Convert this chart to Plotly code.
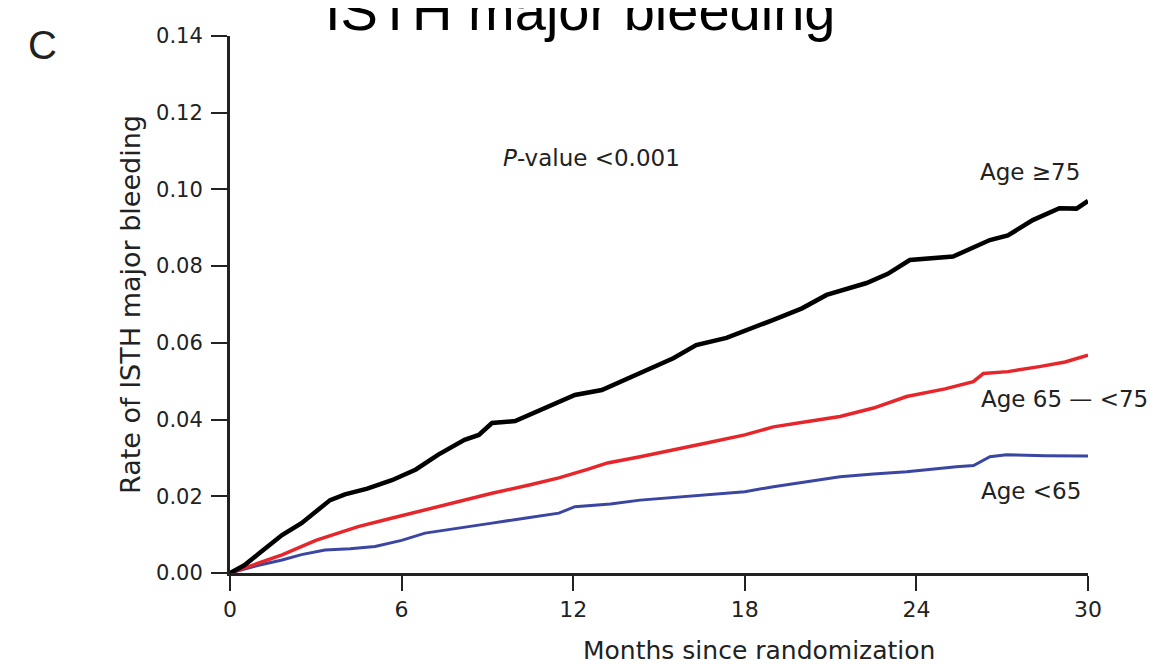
import plotly.graph_objects as go

# ---- data ----
months_75 = [0, 0.5, 1, 1.82, 2.5, 3.0, 3.5, 4.02, 4.8, 5.66, 6.5, 7.27, 8.2, 8.7, 9.16, 9.97,
             11, 12.06, 13.0, 14.0, 14.74, 15.5, 16.3, 17.36, 19.0, 20.0, 20.86, 22.26, 23.0,
             23.77, 25.28, 26.57, 27.2, 28.07, 29.0, 29.6, 30.0]
rate_75 = [0, 0.002, 0.005, 0.0099, 0.013, 0.016, 0.019, 0.0205, 0.022, 0.0242, 0.027, 0.0308,
           0.0347, 0.036, 0.0391, 0.0396, 0.043, 0.0464, 0.0477, 0.051, 0.0535, 0.056, 0.0594,
           0.0613, 0.066, 0.069, 0.0725, 0.0756, 0.078, 0.0816, 0.0825, 0.0868, 0.088, 0.092,
           0.0951, 0.095, 0.097]

months_65_75 = [0, 1, 1.82, 3, 4.48, 5.5, 6.82, 8, 9.16, 10.5, 11.5, 12.5, 13.2, 14.34, 15.5,
                16.66, 18, 19.0, 20.2, 21.33, 22.5, 23.66, 25, 25.99, 26.34, 27.2, 28.3, 29.2, 30.0]
rate_65_75 = [0, 0.0025, 0.0047, 0.0085, 0.0121, 0.014, 0.0164, 0.0185, 0.0208, 0.023, 0.0248,
              0.027, 0.0287, 0.0303, 0.032, 0.0339, 0.036, 0.0381, 0.0395, 0.0408, 0.043, 0.046,
              0.048, 0.0499, 0.052, 0.0525, 0.0538, 0.055, 0.0568]

months_65 = [0, 1, 1.82, 2.5, 3.32, 4.2, 5.07, 6, 6.82, 8, 9.16, 10.3, 11.5, 12.06, 13.3, 14.34,
             15.5, 16.66, 18, 19.0, 20.2, 21.33, 22.5, 23.66, 25.4, 26.0, 26.57, 27.15, 28.5, 30.0]
rate_65 = [0, 0.002, 0.0034, 0.0048, 0.006, 0.0063, 0.0069, 0.0085, 0.0104, 0.0118, 0.013,
           0.0143, 0.0156, 0.0173, 0.018, 0.019, 0.0197, 0.0203, 0.0212, 0.0225, 0.0238, 0.0251,
           0.0258, 0.0264, 0.0277, 0.028, 0.0303, 0.0308, 0.0306, 0.0305]

x_ticks = [0, 6, 12, 18, 24, 30]
y_ticks = [0.00, 0.02, 0.04, 0.06, 0.08, 0.10, 0.12, 0.14]
y_tick_labels = ["0.00", "0.02", "0.04", "0.06", "0.08", "0.10", "0.12", "0.14"]

FONT = "DejaVu Sans, Arial, sans-serif"
TITLE_FONT = "Liberation Sans, Arial, sans-serif"
INK = "#222222"

# page has an 8px body margin: plot area lands at page x 230..1088, y 36..573
PL, PR, PT, PB = 230, 1088, 36, 573


def px(xp):
    return (xp - PL) / (PR - PL)


def py(yp):
    return (PB - yp) / (PB - PT)


fig = go.Figure()
fig.add_trace(go.Scatter(x=months_65, y=rate_65, mode="lines",
                         line=dict(color="#3a46a2", width=3), name="Age <65"))
fig.add_trace(go.Scatter(x=months_65_75, y=rate_65_75, mode="lines",
                         line=dict(color="#e6262b", width=3.5), name="Age 65 — <75"))
fig.add_trace(go.Scatter(x=months_75, y=rate_75, mode="lines",
                         line=dict(color="#000000", width=4.5), name="Age ≥75"))

fig.update_layout(
    width=1150, height=656,
    margin=dict(l=222, r=70, t=28, b=91),
    paper_bgcolor="white", plot_bgcolor="white",
    showlegend=False,
    font=dict(family=FONT, color=INK),
    xaxis=dict(range=[0, 30], tickvals=x_ticks, ticks="outside", ticklen=15, tickwidth=2,
               tickcolor=INK, showline=True, linecolor=INK, linewidth=3, automargin=False,
               showgrid=False, zeroline=False, tickfont=dict(size=22, family=FONT, color=INK)),
    yaxis=dict(range=[0, 0.14], tickvals=y_ticks, ticktext=y_tick_labels, ticks="outside",
               ticklen=16, tickwidth=2, tickcolor=INK, showline=True, linecolor=INK,
               linewidth=3, showgrid=False, zeroline=False, automargin=False,
               ticklabelstandoff=4,
               tickfont=dict(size=21, family=FONT, color=INK),
               title=dict(text="Rate of ISTH major bleeding",
                          font=dict(size=27, family=FONT, color=INK), standoff=8)),
)

# x-axis title (placed off-centre, as in the reference)
fig.add_annotation(xref="paper", yref="paper", x=px(759), y=py(650),
                   text="Months since randomization", showarrow=False,
                   xanchor="center", yanchor="middle",
                   font=dict(size=25, family=FONT, color=INK))

ann_font = dict(size=23, family=FONT, color=INK)
fig.add_annotation(xref="paper", yref="paper", x=px(591), y=py(158),
                   text="<i>P</i>-value &lt;0.001", showarrow=False,
                   xanchor="center", yanchor="middle", font=ann_font)
fig.add_annotation(xref="paper", yref="paper", x=px(1030), y=py(172), text="Age ≥75",
                   showarrow=False, xanchor="center", yanchor="middle", font=ann_font)
fig.add_annotation(xref="paper", yref="paper", x=px(1064), y=py(399), text="Age 65 — &lt;75",
                   showarrow=False, xanchor="center", yanchor="middle", font=ann_font)
fig.add_annotation(xref="paper", yref="paper", x=px(1031), y=py(491), text="Age &lt;65",
                   showarrow=False, xanchor="center", yanchor="middle", font=ann_font)

# panel letter
fig.add_annotation(xref="paper", yref="paper", x=px(42), y=py(45), text="C",
                   showarrow=False, xanchor="center", yanchor="middle",
                   font=dict(size=40, family=TITLE_FONT, color=INK))

# title of the panel, cropped by the top edge of the picture as in the reference
fig.add_annotation(xref="paper", yref="paper", x=px(580), y=py(44),
                   xanchor="center", yanchor="bottom", showarrow=False,
                   text="ISTH major bleeding",
                   font=dict(size=56, family=TITLE_FONT, color="#000000"))

fig.write_html("out.html")
